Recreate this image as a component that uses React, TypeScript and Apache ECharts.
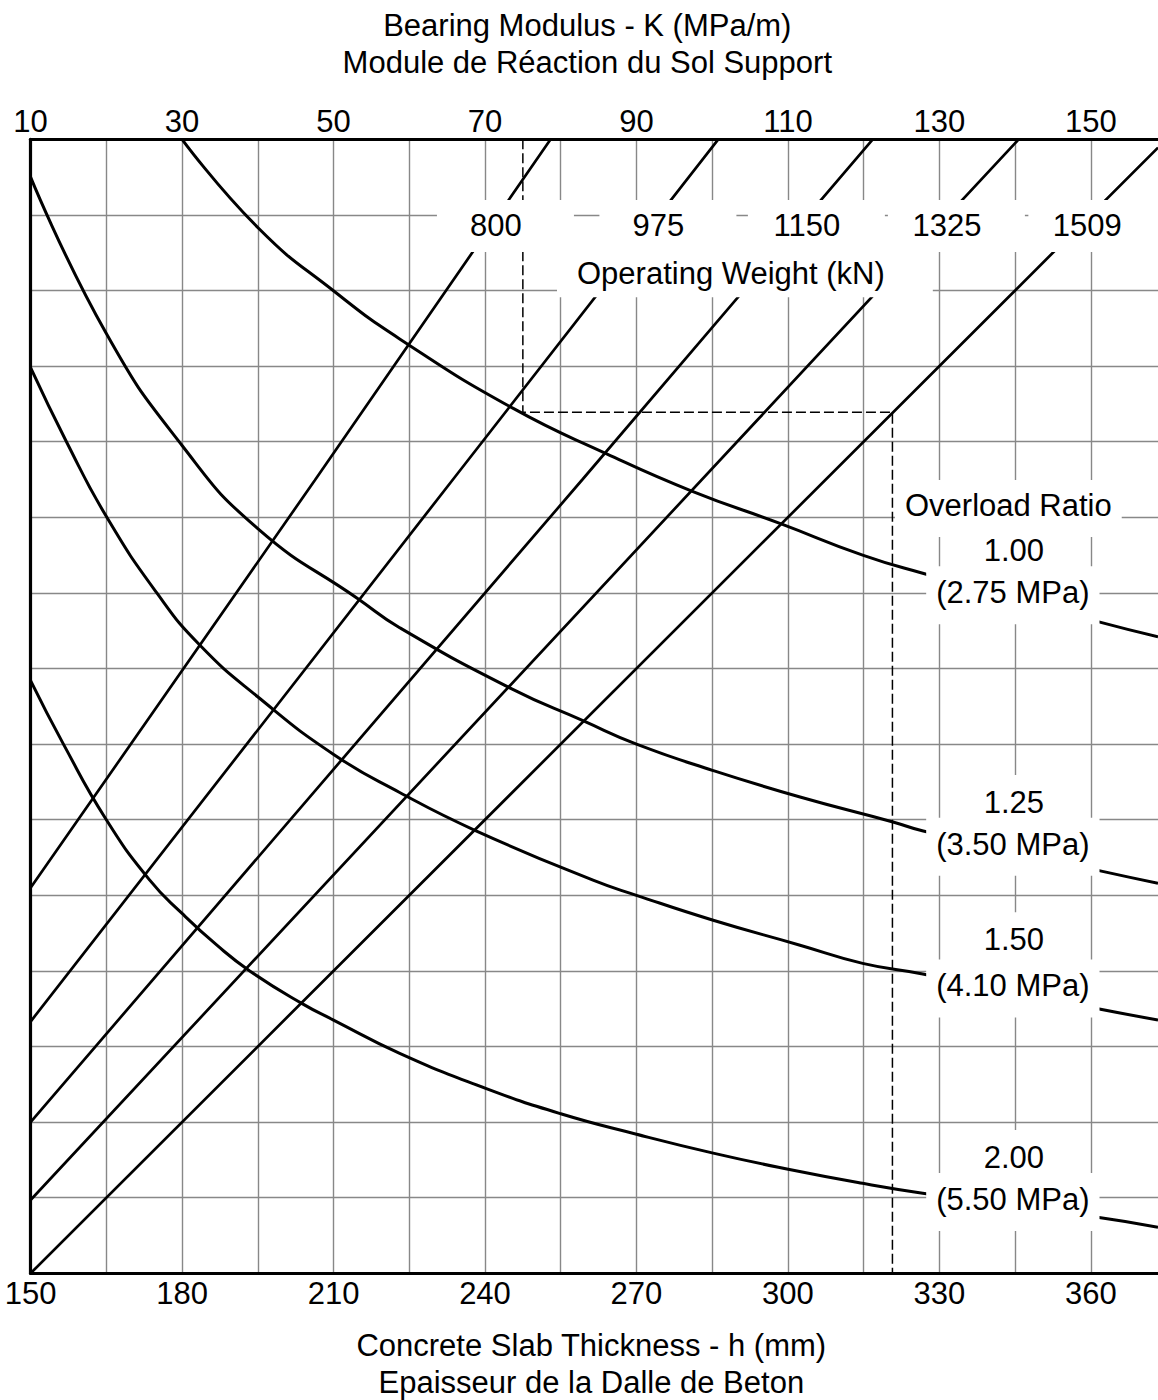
import React, { useEffect, useRef } from "react";
import * as echarts from "echarts";

const FONT = '"Liberation Sans", Arial, Helvetica, sans-serif';
const INK = "#000000";
const GRID_GREY = "#888888";

// ---- Axes -------------------------------------------------------------
// Bottom: concrete slab thickness h (mm); top: bearing modulus K (MPa/m)
const thicknessMin = 150;
const thicknessMax = 373.3;
const thicknessStep = 15;
const thicknessLabelStep = 30;
const modulusMin = 10;
const modulusStep = 10;
const modulusLabelStep = 20;
const modulusPerMm = 20 / 30; // K = 10 at 150 mm, 30 at 180 mm
const modulusMax = modulusMin + (thicknessMax - thicknessMin) * modulusPerMm;
// Vertical (unlabelled) chart rows
const rowMin = 0;
const rowMax = 15;
const rowStep = 1;

// ---- Operating weight lines (kN): [h mm, row] -------------------------
const weightNames = ["800", "975", "1150", "1325", "1509"];
const weight800 = [[150, 5.1], [206.3, 10.49], [253, 15]];
const weight975 = [[150, 3.33], [234, 10.53], [286.2, 15]];
const weight1150 = [[150, 2.0], [259.3, 10.5], [316.8, 15]];
const weight1325 = [[150, 0.97], [294, 11.29], [345.7, 15]];
const weight1509 = [[150, 0], [345, 13], [373.3, 14.89]];
const weightLines = [weight800, weight975, weight1150, weight1325, weight1509];

// ---- Overload ratio curves: [h mm, row] -------------------------------
const ratioNames = ["1.00", "1.25", "1.50", "2.00"];
const stressNames = ["(2.75 MPa)", "(3.50 MPa)", "(4.10 MPa)", "(5.50 MPa)"];
const ratio100 = [[180, 15], [195.2, 13.82], [210.3, 12.98], [223.1, 12.36], [245.6, 11.44], [264.1, 10.84], [281.2, 10.34], [298.4, 9.92], [314.8, 9.5], [326.7, 9.26], [361.4, 8.62], [373.3, 8.42]];
const ratio125 = [[150, 14.5], [165, 12.43], [180, 10.95], [195, 9.85], [214.9, 8.92], [223.1, 8.54], [245.3, 7.73], [259.4, 7.31], [270, 7.0], [285.2, 6.65], [302.4, 6.3], [320.8, 5.97], [326.8, 5.85], [361.4, 5.33], [373.3, 5.16]];
const ratio150 = [[150, 11.98], [157.1, 11.0], [165.1, 10.0], [175, 9.0], [183.5, 8.31], [195.1, 7.62], [210.1, 6.86], [223.1, 6.36], [238, 5.86], [261.4, 5.2], [270, 5.0], [285.2, 4.67], [302.4, 4.34], [314.8, 4.1], [326.7, 3.96], [361.4, 3.5], [373.3, 3.35]];
const ratio200 = [[150, 7.84], [156.5, 7.0], [165, 6.0], [173.6, 5.2], [180, 4.76], [186.9, 4.34], [193.4, 4.0], [203.7, 3.57], [210, 3.35], [223.1, 2.91], [240, 2.45], [255, 2.11], [270, 1.84], [285.2, 1.59], [299.8, 1.38], [314.8, 1.19], [326.7, 1.06], [361.3, 0.74], [373.3, 0.61]];
const ratioCurves = [ratio100, ratio125, ratio150, ratio200];

// ---- Worked example (dashed): K = 75 -> ratio 1.00 -> 1509 kN -> h ------
const exampleRoute = [[247.5, 15], [247.5, 11.39], [320.7, 11.39], [320.7, 0]];

// ---- Label box anchors (layout: box centre x in h, box top in rows) ----
const weightLabelH = [244.05, 276.23, 305.64, 333.37, 361.19];
const weightLabelTop = 14.197;
const weightTitleAt = [291.48, 13.532];
const overloadTitleAt = [343.66, 10.493];
const ratioLabelH = 344.75;
const ratioLabelTop = [9.918, 6.59, 4.775, 1.895];
const stressLabelH = 344.55;
const stressLabelTop = [9.352, 6.025, 4.151, 1.327];

const isMultiple = (v: number, base: number, step: number) => {
  const q = (v - base) / step;
  return Math.abs(q - Math.round(q)) < 1e-6;
};

const textBase = {
  color: INK,
  fontFamily: FONT,
  fontSize: 31,
};

const boxLabel = (text: string, at: number[], padding: number[], width?: number) => ({
  value: at,
  label: {
    show: true,
    position: "inside",
    formatter: text,
    ...textBase,
    opacity: 1,
    lineHeight: 31,
    backgroundColor: "#ffffff",
    padding,
    align: "center",
    verticalAlign: "top",
    ...(width ? { width } : {}),
  },
});

function buildOption() {
  const axisLine = { show: true, onZero: false, lineStyle: { color: INK, width: 3.2 } };
  const splitLine = {
    show: true,
    showMinLine: false,
    showMaxLine: false,
    lineStyle: { color: GRID_GREY, width: 1.4 },
  };

  const lineSeries: any[] = [];
  weightLines.forEach((d, i) => {
    lineSeries.push({
      name: weightNames[i] + " kN",
      type: "line",
      data: d,
      symbol: "none",
      lineStyle: { color: INK, width: 2.7 },
      silent: true,
      z: 2,
    });
  });
  ratioCurves.forEach((d, i) => {
    lineSeries.push({
      name: "Overload " + ratioNames[i],
      type: "line",
      data: d,
      symbol: "none",
      smooth: 0.5,
      lineStyle: { color: INK, width: 3 },
      silent: true,
      z: 2,
    });
  });
  lineSeries.push({
    name: "example",
    type: "line",
    data: exampleRoute,
    symbol: "none",
    lineStyle: { color: INK, width: 1.5, type: [10, 4] },
    silent: true,
    z: 2,
  });

  const labels: any[] = [];
  weightNames.forEach((n, i) => {
    labels.push(boxLabel(n, [weightLabelH[i], weightLabelTop], [10, 43, 11, 24], 70));
  });
  labels.push(boxLabel("Operating Weight (kN)", weightTitleAt, [8, 48, 8, 20]));
  labels.push(boxLabel("Overload Ratio", overloadTitleAt, [10, 10, 16, 10]));
  ratioNames.forEach((n, i) => {
    labels.push(boxLabel(n, [ratioLabelH, ratioLabelTop[i]], [12, 8, 5, 8]));
  });
  stressNames.forEach((n, i) => {
    labels.push(boxLabel(n, [stressLabelH, stressLabelTop[i]], [11, 10, 16, 10]));
  });

  return {
    animation: false,
    backgroundColor: "#ffffff",
    grid: {
      left: 30.6,
      right: 0,
      top: 139.3,
      bottom: 126.7,
      containLabel: false,
      outerBoundsMode: "none",
    },
    xAxis: [
      {
        type: "value",
        position: "bottom",
        min: thicknessMin,
        max: thicknessMax,
        interval: thicknessStep,
        axisLine,
        axisTick: { show: false },
        axisLabel: {
          ...textBase,
          margin: 5,
          showMinLabel: true,
          formatter: (v: number) =>
            isMultiple(v, thicknessMin, thicknessLabelStep) ? String(Math.round(v)) : "",
        },
        splitLine,
        name: "Concrete Slab Thickness - h (mm)\nEpaisseur de la Dalle de Beton",
        nameLocation: "middle",
        nameGap: 53.5,
        nameTextStyle: { ...textBase, lineHeight: 37, padding: [0, 6, 0, 0] },
      },
      {
        type: "value",
        position: "top",
        min: modulusMin,
        max: modulusMax,
        interval: modulusStep,
        axisLine,
        axisTick: { show: false },
        axisLabel: {
          ...textBase,
          margin: 2,
          showMinLabel: true,
          formatter: (v: number) =>
            isMultiple(v, modulusMin, modulusLabelStep) ? String(Math.round(v)) : "",
        },
        splitLine: { show: false },
        name: "Bearing Modulus - K (MPa/m)\nModule de Réaction du Sol Support",
        nameLocation: "middle",
        nameGap: 58.5,
        nameTextStyle: { ...textBase, lineHeight: 37, padding: [0, 14, 0, 0] },
      },
    ],
    yAxis: {
      type: "value",
      min: rowMin,
      max: rowMax,
      interval: rowStep,
      axisLine,
      axisTick: { show: false },
      axisLabel: { show: false },
      splitLine,
    },
    series: [
      ...lineSeries,
      {
        name: "labels",
        type: "scatter",
        data: labels,
        symbolSize: 1,
        itemStyle: { color: "rgba(0,0,0,0)", opacity: 1 },
        silent: true,
        z: 5,
      },
    ],
  };
}

export default function App() {
  const ref = useRef<HTMLDivElement>(null);
  useEffect(() => {
    if (!ref.current) return;
    const chart = echarts.init(ref.current, null, { renderer: "svg" });
    chart.setOption(buildOption() as any);
    return () => chart.dispose();
  }, []);
  return (
    <div
      ref={ref}
      style={{ position: "absolute", left: 0, top: 0, width: 1158, height: 1400, background: "#fff" }}
    />
  );
}
